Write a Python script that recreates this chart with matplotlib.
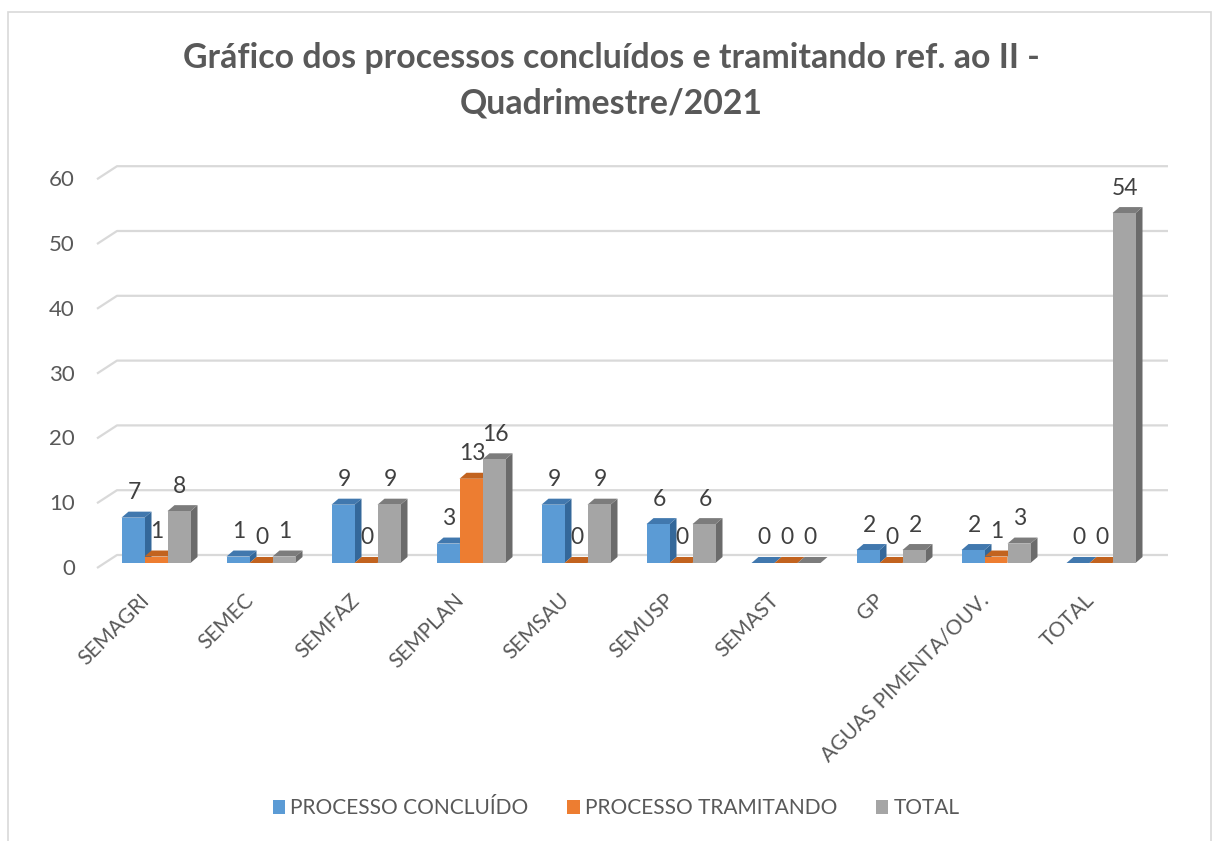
import matplotlib
matplotlib.use("Agg")
import matplotlib.pyplot as plt
from matplotlib.patches import Polygon, Rectangle, Patch

plt.rcParams['font.family'] = ['Lato', 'DejaVu Sans']

categorias = ["SEMAGRI", "SEMEC", "SEMFAZ", "SEMPLAN", "SEMSAU", "SEMUSP",
              "SEMAST", "GP", "AGUAS PIMENTA/OUV.", "TOTAL"]
concluido = [7, 1, 9, 3, 9, 6, 0, 2, 2, 0]
tramitando = [1, 0, 0, 13, 0, 0, 0, 0, 1, 0]
total = [8, 1, 9, 16, 9, 6, 0, 2, 3, 54]
nomes = ["PROCESSO CONCLUÍDO", "PROCESSO TRAMITANDO", "TOTAL"]
yticks = [0, 10, 20, 30, 40, 50, 60]

# front / top / side colours of each series
cores = [("#5B9BD5", "#4178AE", "#34689A"),
         ("#ED7D31", "#C2631F", "#A9561C"),
         ("#A5A5A5", "#7C7C7C", "#6B6B6B")]

W, H = 1214, 841
fig = plt.figure(figsize=(W / 100, H / 100), dpi=100)

# plot area in pixels (left, right, top, bottom)
L, R, T, B = 40, 1180, 150, 620
ax = fig.add_axes([L / W, 1 - B / H, (R - L) / W, (B - T) / H])
PXU = 6.48     # pixels per unit
PXC = 105.0    # pixels per category
x0px, y0px = 156, 563
ax.set_xlim((L - x0px) / PXC, (R - x0px) / PXC)
ax.set_ylim((y0px - B) / PXU, (y0px - T) / PXU)
ax.axis('off')

def px_x(p):
    return p / PXC

def px_y(p):
    return p / PXU

# back wall gridlines with the slanted edge
x_front = (97 - x0px) / PXC
x_back = (117 - x0px) / PXC
x_end = (1168 - x0px) / PXC
off_front = -px_y(5)
off_back = px_y(8)
for v in yticks:
    ax.plot([x_front, x_back, x_end], [v + off_front, v + off_back, v + off_back],
            color="#d9d9d9", lw=1.6, zorder=1, solid_capstyle='butt')
    ax.text(px_x(75 - x0px), v + off_front - px_y(1), str(v), ha='right', va='center',
            fontsize=16, color="#595959")

w = px_x(23)
dx = px_x(7)
dy = px_y(6)
series = [concluido, tramitando, total]
z = 2
for i in range(len(categorias)):
    for k, vals in enumerate(series):
        v = vals[i]
        fc, tc, sc = cores[k]
        xa = i + (k - 1) * w - w / 2
        xb = xa + w
        ax.add_patch(Polygon([(xb, 0), (xb + dx, dy), (xb + dx, v + dy), (xb, v)],
                             closed=True, facecolor=sc, edgecolor='none', zorder=z))
        ax.add_patch(Polygon([(xa, v), (xb, v), (xb + dx, v + dy), (xa + dx, v + dy)],
                             closed=True, facecolor=tc, edgecolor='none', zorder=z + 1))
        if v > 0:
            ax.add_patch(Rectangle((xa, 0), w, v, facecolor=fc, edgecolor='none', zorder=z + 2))
        z += 3
        ax.text((xa + xb) / 2 + px_x(1), v + px_y(25), str(v), ha='center', va='center',
                fontsize=16.5, color="#404040", zorder=200)
    ax.text(i - px_x(3), -px_y(27), categorias[i], rotation=45, ha='right', va='top',
            fontsize=15, color="#595959")

fig.text(611 / W, 1 - 58 / H, "Gráfico dos processos concluídos e tramitando ref. ao II -",
         ha='center', va='center', fontsize=24.4, fontweight='bold', color="#595959")
fig.text(611 / W, 1 - 103 / H, "Quadrimestre/2021",
         ha='center', va='center', fontsize=24.4, fontweight='bold', color="#595959")

handles = [Patch(facecolor=c[0], edgecolor='none') for c in cores]
fig.legend(handles, nomes, loc='center', bbox_to_anchor=(616 / W, 1 - 808 / H), ncol=3,
           frameon=False, fontsize=15, handlelength=0.6, handleheight=0.65,
           handletextpad=0.25, columnspacing=1.85, labelcolor="#595959")

fig.patches.append(Rectangle((8 / W, -0.05), (1211 - 8) / W, 1 - 12 / H + 0.05,
                             transform=fig.transFigure, fill=False,
                             edgecolor="#d9d9d9", lw=1.2))

fig.savefig("out.png", dpi=100)
